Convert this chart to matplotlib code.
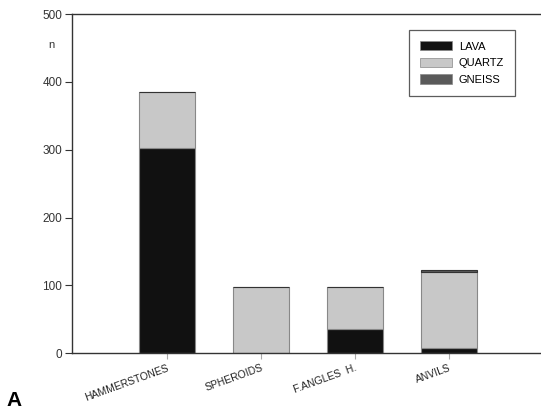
import matplotlib
matplotlib.use("Agg")
import matplotlib.pyplot as plt
import numpy as np

categories = ["HAMMERSTONES", "SPHEROIDS", "F.ANGLES  H.", "ANVILS"]
lava = [302, 0, 35, 8]
quartz = [83, 97, 63, 111]
gneiss = [0, 1, 0, 3]
series_names = ["LAVA", "QUARTZ", "GNEISS"]
colors = ["#111111", "#c8c8c8", "#5a5a5a"]

plt.rcParams['font.family'] = ['Liberation Sans', 'DejaVu Sans']

fig = plt.figure(figsize=(5.41, 4.16), dpi=100)
ax = fig.add_axes([0.133, 0.151, 0.867, 0.815])

x = np.arange(len(categories))
w = 0.6
bottom = np.zeros(len(categories))
for vals, name, c in zip([lava, quartz, gneiss], series_names, colors):
    vals = np.array(vals, dtype=float)
    ec = "#333333" if name == "GNEISS" else "#888888"
    ax.bar(x, vals, w, bottom=bottom, color=c, edgecolor=ec,
           linewidth=0.8, label=name)
    bottom += vals

ax.set_xlim(-1.01, 3.98)
ax.set_ylim(0, 500)
ax.set_yticks([0, 100, 200, 300, 400, 500])
ax.tick_params(axis='y', labelsize=8.5, length=5, width=0.8, colors="#333333", pad=2)
ax.tick_params(axis='x', length=4, width=0.8, color="#aaaaaa", pad=3)
ax.set_xticks(x)
ax.set_xticklabels(categories, rotation=20, ha='right', rotation_mode='anchor',
                   fontsize=7.5, color="#222222")
ax.spines['right'].set_visible(False)
for s in ['left', 'bottom', 'top']:
    ax.spines[s].set_color("#333333")
    ax.spines[s].set_linewidth(1.0)

ax.text(-1.01 - 0.22, 455, "n", fontsize=8, color="#333333", ha='center', va='center')

leg = ax.legend(handles=[plt.Rectangle((0, 0), 1, 1, fc=c, ec="#888888", lw=0.5) for c in colors],
                labels=series_names, loc='upper right', bbox_to_anchor=(0.945, 0.953),
                fontsize=8, frameon=True, fancybox=False, edgecolor="#333333",
                handlelength=2.9, handleheight=0.9, borderpad=1.0, labelspacing=0.55,
                handletextpad=0.6, borderaxespad=0)
leg.get_frame().set_linewidth(0.9)

fig.text(0.012, 0.015, "A", fontsize=15, fontweight='bold', ha='left', va='bottom')

fig.savefig("out.png", dpi=100)
